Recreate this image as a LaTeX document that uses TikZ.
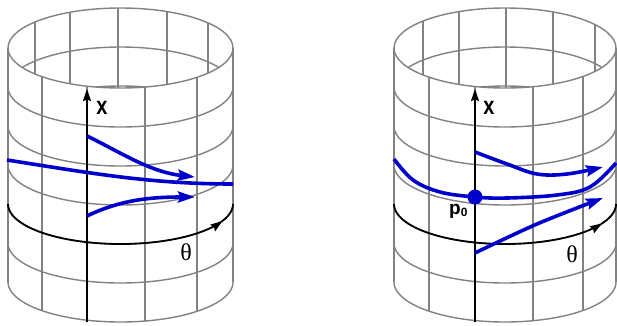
\documentclass[tikz,border=0pt]{standalone}
\usepackage{fontspec}
\usetikzlibrary{arrows.meta}
\newfontfamily\arialf{Liberation Sans}
\newfontfamily\timesf{Liberation Serif}
\definecolor{gridgray}{RGB}{130,130,130}
\definecolor{curveblue}{RGB}{0,0,204}
\tikzset{
  grid/.style={draw=gridgray,line width=1.4pt},
  axisline/.style={draw=black,line width=1.5pt,-{Stealth[length=12pt,width=8pt,inset=1.5pt]}},
  thetaarc/.style={draw=black,line width=1.8pt},
  flow/.style={draw=curveblue,line width=3.6pt},
  flowarrow/.style={flow,-{Stealth[length=17pt,width=11pt,inset=2.5pt]}},
  axlbl/.style={inner sep=0pt,font=\arialf\bfseries\fontsize{25}{25}\selectfont},
  thlbl/.style={inner sep=0pt,font=\timesf\fontsize{24}{24}\selectfont},
}
\newcommand\cylgrid[4]{%
  \begin{scope}
    \clip (#1,48) ellipse [x radius=#2, y radius=40];
    \foreach \k in {1,2}
      \draw[grid] plot[domain=180:360,samples=90] ({#1+#2*cos(\x)},{48+39*\k+40*sin(\x)});
  \end{scope}
  \foreach \d in {#3}
    \draw[grid] ({#1+\d},{48-40*sqrt(1-(\d/#2)^2)}) -- ({#1+\d},{48+40*sqrt(1-(\d/#2)^2)});
  \draw[grid] (#1,48) ellipse [x radius=#2, y radius=40];
  \foreach \k in {1,...,6}
    \draw[grid] plot[domain=180:0,samples=90] ({#1+#2*cos(\x)},{48+39*\k+40*sin(\x)});
  \draw[grid] ({#1-#2},48) -- ({#1-#2},282);
  \draw[grid] ({#1+#2},48) -- ({#1+#2},282);
  \foreach \d in {#4}
    \draw[grid] ({#1+\d},{48+40*sqrt(1-(\d/#2)^2)}) -- ({#1+\d},{282+40*sqrt(1-(\d/#2)^2)});
}
\begin{document}
\begin{tikzpicture}[x=1pt,y=-1pt]
\useasboundingbox (0,0) rectangle (617,325);
\fill[white] (0,0) rectangle (617,325);

% ---------- left cylinder ----------
\cylgrid{120.5}{112.5}{-85.5,-50.5,-2.5,46.5,87.5}{-78.5,-33.5,24.5,76.5}
\coordinate (axLb) at (87,322);
\coordinate (axLt) at (87,89);
\draw[axisline] (axLb) -- (axLt);
\draw[thetaarc,-{Stealth[length=12pt,width=8pt,inset=1.5pt]}]
  plot[domain=180:25,samples=90] ({120.5+112.5*cos(\x)},{204+40*sin(\x)});
\draw[thetaarc] plot[domain=26:0,samples=20] ({120.5+112.5*cos(\x)},{204+40*sin(\x)});
\node[axlbl] (xL) at (102,108) {\scalebox{0.8}[1]{x}};
\node[thlbl] (thL) at (186,252) {θ};

\coordinate (l1s) at (87,136);
\coordinate (l1e) at (195,177);
\draw[flowarrow] (l1s) .. controls (120,152) and (150,172) .. (l1e);
\coordinate (l2s) at (7,160);
\coordinate (l2e) at (233,184);
\draw[flow] (l2s) .. controls (90,173) and (150,184) .. (l2e);
\coordinate (l3s) at (87,216);
\coordinate (l3e) at (195,197);
\draw[flowarrow] (l3s) .. controls (120,200) and (150,197) .. (l3e);

% ---------- right cylinder ----------
\cylgrid{505}{111}{-82,-46,1,48,90}{-76,-30,28,78}
\coordinate (axRb) at (475,322);
\coordinate (axRt) at (475,89);
\draw[axisline] (axRb) -- (axRt);
\draw[thetaarc,-{Stealth[length=12pt,width=8pt,inset=1.5pt]}]
  plot[domain=180:29,samples=90] ({505+111*cos(\x)},{204+40*sin(\x)});
\draw[thetaarc] plot[domain=30:0,samples=20] ({505+111*cos(\x)},{204+40*sin(\x)});
\node[axlbl] (xR) at (489,108) {\scalebox{0.8}[1]{x}};
\node[thlbl] (thR) at (572,254) {θ};

\draw[flowarrow] plot[smooth,tension=0.6] coordinates {(475,152) (507,164) (537,174) (567,174) (603,167)};
\draw[flow] plot[smooth,tension=0.6] coordinates {(394,159) (413,180) (440,192) (475,197) (507,198) (557,195) (590,187) (616,163)};
\draw[flowarrow] plot[smooth,tension=0.6] coordinates {(475,253) (537,224) (603,198)};
\node[circle,fill=curveblue,minimum size=15pt,inner sep=0pt] (p0) at (475,197) {};
\node[inner sep=0pt,anchor=base west] (p0lbl) at (449,214)
  {\arialf\bfseries\fontsize{19}{19}\selectfont p\raisebox{-2.5pt}{\fontsize{12}{12}\selectfont 0}};
\end{tikzpicture}
\end{document}
